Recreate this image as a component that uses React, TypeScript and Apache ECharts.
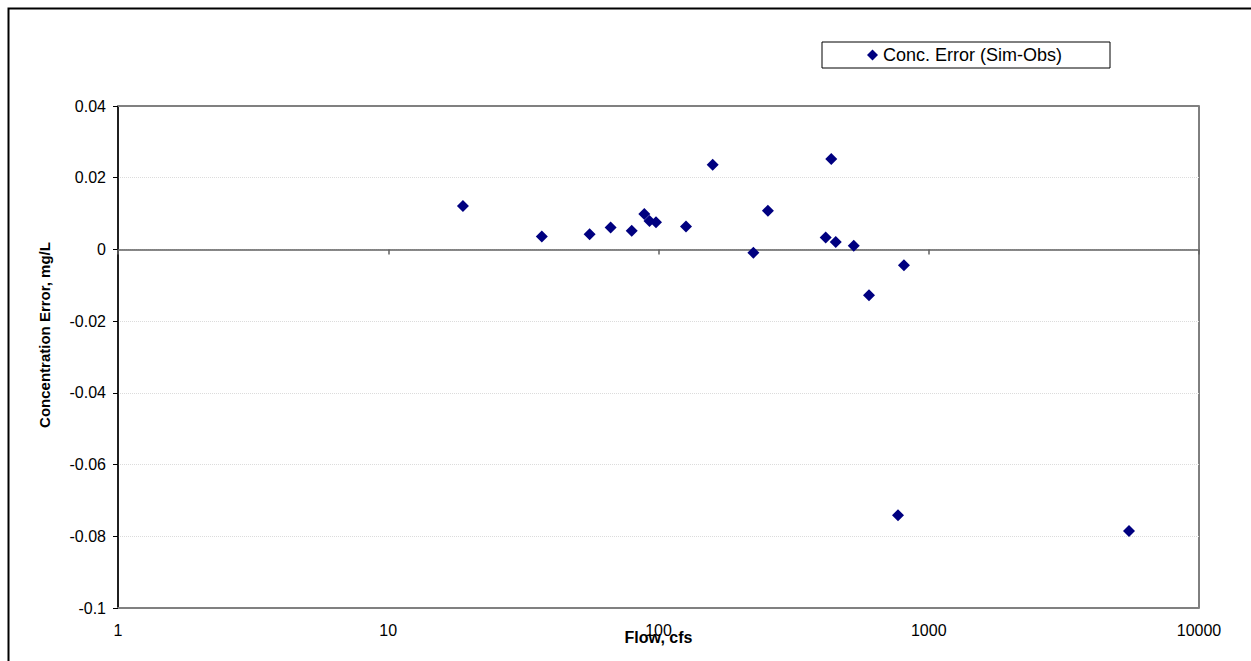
import React, { useEffect, useRef } from "react";
import * as echarts from "echarts";

const flowCfs = [18.9, 37.0, 55.6, 66.5, 79.6, 88.6, 92.6, 97.9, 126.4, 158.7, 224.4, 254, 415.6, 435.7, 452.7, 527.8, 601, 769.6, 809.5, 5508];
const concError = [0.0121, 0.0036, 0.0042, 0.0061, 0.0052, 0.0099, 0.0079, 0.0076, 0.0064, 0.0236, -0.0009, 0.0108, 0.0033, 0.0252, 0.0021, 0.001, -0.0128, -0.0741, -0.0044, -0.0785];
const seriesName = "Conc. Error (Sim-Obs)";
const xTitle = "Flow, cfs";
const yTitle = "Concentration Error, mg/L";

export default function App() {
  const ref = useRef<HTMLDivElement>(null);
  useEffect(() => {
    if (!ref.current) return;
    const chart = echarts.init(ref.current, undefined, { renderer: "svg" });
    const font = "Arial, 'Liberation Sans', sans-serif";
    const data = flowCfs.map((f, i) => [f, concError[i]]);
    chart.setOption({
      animation: false,
      backgroundColor: "#fff",
      textStyle: { fontFamily: font },
      grid: { left: 118, top: 106, right: 52, bottom: 53, containLabel: false, show: true, borderColor: "#000", borderWidth: 1 },
      legend: {
        left: 822,
        top: 42,
        padding: [4, 48, 4, 45],
        borderColor: "#000",
        borderWidth: 1,
        itemWidth: 11,
        itemHeight: 11,
        textStyle: { fontFamily: font, fontSize: 18, color: "#000" },
        data: [{ name: seriesName, icon: "diamond" }],
      },
      xAxis: [
        {
          type: "log",
          logBase: 10,
          min: 1,
          max: 10000,
          position: "bottom",
          name: xTitle,
          nameLocation: "middle",
          nameGap: 21,
          nameMoveOverlap: false,
          nameTextStyle: { fontFamily: font, fontSize: 16, fontWeight: "bold", color: "#000" },
          axisLine: { onZero: false, show: true, lineStyle: { color: "#808080", width: 2 } },
          axisTick: { show: false },
          axisLabel: { fontFamily: font, fontSize: 16, color: "#000", margin: 14, formatter: (v: number) => String(Math.round(v)) },
          splitLine: { show: false },
          minorTick: { show: false },
        },
        {
          type: "log",
          logBase: 10,
          min: 1,
          max: 10000,
          position: "bottom",
          axisLine: { onZero: true, show: true, lineStyle: { color: "#606060", width: 1.5 } },
          axisTick: { show: true, length: 5, lineStyle: { color: "#606060", width: 1.5 } },
          axisLabel: { show: false },
          splitLine: { show: false },
        },
        {
          type: "log",
          logBase: 10,
          min: 1,
          max: 10000,
          position: "top",
          axisLine: { onZero: false, show: true, lineStyle: { color: "#808080", width: 2 } },
          axisTick: { show: false },
          axisLabel: { show: false },
          splitLine: { show: false },
        },
      ],
      yAxis: {
        type: "value",
        min: -0.1,
        max: 0.04,
        interval: 0.02,
        name: yTitle,
        nameLocation: "middle",
        nameGap: 66,
        nameMoveOverlap: false,
        nameTextStyle: { fontFamily: font, fontSize: 15, fontWeight: "bold", color: "#000", padding: [0, 0, 0, 44] },
        axisLine: { show: true, lineStyle: { color: "#000", width: 1.5 } },
        axisTick: { show: true, length: 5, lineStyle: { color: "#000" } },
        axisLabel: {
          fontFamily: font,
          fontSize: 16,
          color: "#000",
          margin: 12,
          formatter: (v: number) => String(Math.round(v * 1000) / 1000),
        },
        splitLine: { show: true, lineStyle: { color: "#dcdcdc", type: "dotted", width: 1 } },
      },
      graphic: [
        {
          type: "rect",
          left: 6,
          top: 6,
          shape: { width: 1300, height: 700 },
          style: { fill: "none", stroke: "#000", lineWidth: 2 },
          silent: true,
        },
      ],
      series: [
        {
          name: seriesName,
          type: "scatter",
          xAxisIndex: 0,
          data,
          symbol: "diamond",
          symbolSize: 12,
          itemStyle: { color: "#000080", opacity: 1 },
        },
      ],
    });
    return () => chart.dispose();
  }, []);
  return <div ref={ref} style={{ position: "fixed", left: 0, top: 0, width: 1251, height: 661 }} />;
}
